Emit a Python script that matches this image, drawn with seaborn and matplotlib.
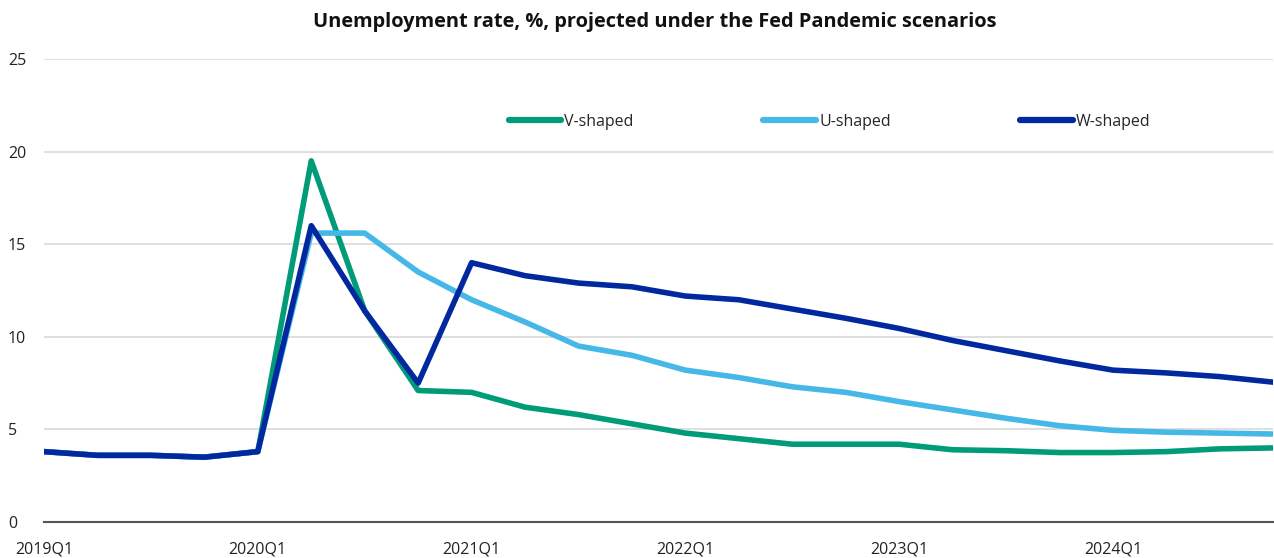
import matplotlib
matplotlib.use("Agg")
import matplotlib.pyplot as plt
import seaborn as sns
import pandas as pd
import numpy as np

quarters = [f"{y}Q{q}" for y in range(2019, 2025) for q in range(1, 5)]
v_shaped = [3.8, 3.6, 3.6, 3.5, 3.8, 19.5, 11.4, 7.1, 7.0, 6.2, 5.8, 5.3,
            4.8, 4.5, 4.2, 4.2, 4.2, 3.9, 3.85, 3.75, 3.75, 3.8, 3.95, 4.0]
u_shaped = [3.8, 3.6, 3.6, 3.5, 3.8, 15.6, 15.6, 13.5, 12.0, 10.8, 9.5, 9.0,
            8.2, 7.8, 7.3, 7.0, 6.5, 6.05, 5.6, 5.2, 4.95, 4.85, 4.8, 4.75]
w_shaped = [3.8, 3.6, 3.6, 3.5, 3.8, 16.0, 11.4, 7.5, 14.0, 13.3, 12.9, 12.7,
            12.2, 12.0, 11.5, 11.0, 10.45, 9.8, 9.25, 8.7, 8.2, 8.05, 7.85, 7.55]
series_names = ["V-shaped", "U-shaped", "W-shaped"]
colors = ["#009B77", "#45B8E8", "#0228A0"]
y_ticks = [0, 5, 10, 15, 20, 25]
title = "Unemployment rate, %, projected under the Fed Pandemic scenarios"

df = pd.DataFrame({
    "idx": list(range(len(quarters))) * 3,
    "value": v_shaped + u_shaped + w_shaped,
    "scenario": np.repeat(series_names, len(quarters)),
})

sns.set_style("white")
plt.rcParams["font.family"] = ["Open Sans", "DejaVu Sans"]

fig = plt.figure(figsize=(12.74, 5.58), dpi=100)
ax = fig.add_axes([44/1274, 36/558, 1 - 44/1274 - 0.0005, (522-59)/558])

sns.lineplot(data=df, x="idx", y="value", hue="scenario", hue_order=series_names,
             palette=colors, linewidth=4.0, ax=ax, legend=False, sort=False)

ax.set_xlim(0, len(quarters) - 1)
ax.set_ylim(0, 25)
ax.set_yticks(y_ticks)
ax.set_yticklabels([str(t) for t in y_ticks], fontsize=11.5, color="#222222")
ax.set_xticks(range(len(quarters)))
ax.set_xticklabels([q if q.endswith("Q1") else "" for q in quarters],
                   fontsize=11.5, color="#222222")
ax.tick_params(axis="y", length=0, pad=26)
ax.tick_params(axis="x", length=6, width=1.2, color="#555555", direction="out", pad=8)
for lbl in ax.get_yticklabels():
    lbl.set_horizontalalignment("left")
ax.grid(axis="y", color="#d9d9d9", linewidth=1.2)
ax.grid(axis="x", visible=False)
for s in ["left", "right", "top"]:
    ax.spines[s].set_visible(False)
ax.spines["bottom"].set_color("#555555")
ax.spines["bottom"].set_linewidth(1.5)
ax.set_xlabel("")
ax.set_ylabel("")

handles = [plt.Line2D([0], [0], color=c, linewidth=4.5, solid_capstyle="round") for c in colors]
ax.legend(handles, series_names, ncol=3, loc="center", bbox_to_anchor=(0.639, 0.864),
          frameon=False, fontsize=11.5, handlelength=3.3, handletextpad=0.2,
          columnspacing=8.1)

fig.text(655/1274, 1 - 22/558, title, ha="center", va="center",
         fontsize=14.4, fontweight="bold", color="#111111")

fig.savefig("out.png", dpi=100)
